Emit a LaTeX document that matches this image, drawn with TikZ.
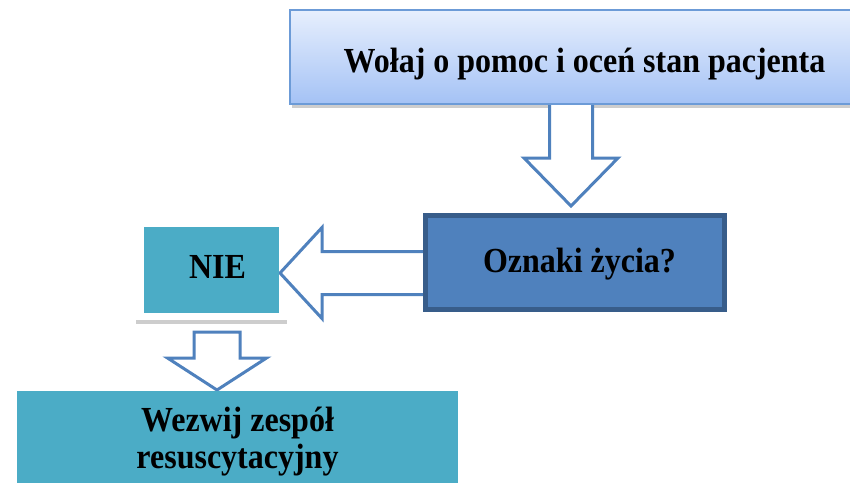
\documentclass[tikz,border=0pt]{standalone}
\usepackage{fontspec}
\setmainfont{Liberation Serif}
\usetikzlibrary{calc}

\definecolor{accent}{RGB}{79,129,189}
\definecolor{accentdark}{RGB}{56,93,138}
\definecolor{tealbox}{RGB}{75,172,198}
\definecolor{paletop}{RGB}{231,239,253}
\definecolor{palebot}{RGB}{164,194,245}
\definecolor{paleborder}{RGB}{108,155,215}
\definecolor{shadowgray}{RGB}{205,205,205}

% block arrow pointing down: #1 shaft start, #2 tip, #3 shaft half width, #4 head half width, #5 head length
\newcommand\downblock[5]{%
  \draw[blockarrow] ($(#1)+(-#3,0)$) -- ($(#2)+(-#3,-#5)$) -- ($(#2)+(-#4,-#5)$) -- (#2)
    -- ($(#2)+(#4,-#5)$) -- ($(#2)+(#3,-#5)$) -- ($(#1)+(#3,0)$) -- cycle;}
% block arrow pointing left: same arguments
\newcommand\leftblock[5]{%
  \draw[blockarrow] ($(#1)+(0,-#3)$) -- ($(#2)+(#5,-#3)$) -- ($(#2)+(#5,-#4)$) -- (#2)
    -- ($(#2)+(#5,#4)$) -- ($(#2)+(#5,#3)$) -- ($(#1)+(0,#3)$) -- cycle;}
% slightly tall bold lettering
\newcommand\tallbold[1]{\scalebox{1}[1.1]{#1}}

\tikzset{
  blockarrow/.style={draw=accent, line width=3pt, fill=white},
  boxtext/.style={font=\bfseries\fontsize{32}{37}\selectfont, text=black, inner sep=0pt, anchor=base},
  topbox/.style={draw=paleborder, line width=1.5pt, top color=paletop, bottom color=palebot,
    minimum width=590pt, minimum height=94pt},
  questionbox/.style={draw=accentdark, fill=accent, line width=5pt,
    minimum width=299pt, minimum height=94pt},
  answerbox/.style={fill=tealbox},
  shadowbar/.style={fill=shadowgray, draw=none}
}

\begin{document}
\begin{tikzpicture}[x=1pt, y=-1pt]
  \clip (0,0) rectangle (850,488);
  \fill[white] (0,0) rectangle (850,488);

  % shadows under the boxes
  \fill[shadowbar] (292,103) rectangle (880,108);
  \fill[shadowbar] (136,320) rectangle (287,324);

  % arrow anchor points
  \coordinate (a1s) at (571,100);
  \coordinate (a1t) at (571,206);
  \coordinate (a2s) at (425,273);
  \coordinate (a2t) at (280,273);
  \coordinate (a3s) at (217,332);
  \coordinate (a3t) at (217,390);

  % arrows (drawn first so the boxes cover their shaft ends)
  \downblock{a1s}{a1t}{21.5}{47}{48}
  \leftblock{a2s}{a2t}{21.5}{45.5}{42}
  \downblock{a3s}{a3t}{23}{49.5}{32}

  % boxes
  \node[topbox] (call) at (585,57) {};
  \node[questionbox] (signs) at (575,262.5) {};
  \node[answerbox, minimum width=135pt, minimum height=86pt] (no) at (211.5,270) {};
  \node[answerbox, minimum width=441pt, minimum height=92pt] (team) at (237.5,437) {};

  % lettering
  \node[boxtext] (calltext) at (584.5,72) {\tallbold{Wołaj o pomoc i oceń stan pacjenta}};
  \node[boxtext] (signstext) at (579.5,272) {\tallbold{Oznaki życia?}};
  \node[boxtext] (notext) at (217.5,278) {\tallbold{NIE}};
  \node[boxtext] (teamtexta) at (237.5,431) {\tallbold{Wezwij zespół}};
  \node[boxtext] (teamtextb) at (237.5,468) {\tallbold{resuscytacyjny}};
\end{tikzpicture}
\end{document}
